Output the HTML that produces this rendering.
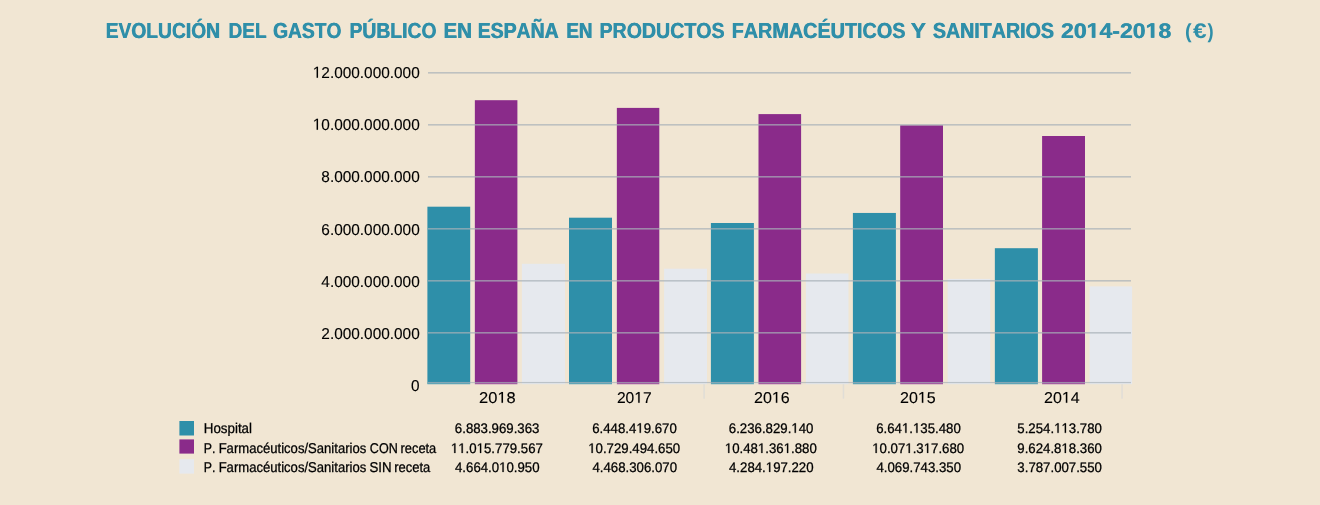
<!DOCTYPE html>
<html><head><meta charset="utf-8"><style>
html,body{margin:0;padding:0;background:#f1e6d3;width:1320px;height:505px;overflow:hidden;}
svg{display:block;will-change:transform;}
text{font-family:"Liberation Sans",sans-serif;fill:#000000;font-kerning:none;text-rendering:geometricPrecision;}
.t{stroke:#000000;stroke-width:0.28px;}
.t2{stroke:#000000;stroke-width:0.12px;}
.t2p path{fill:#000000;stroke:#000000;stroke-width:0.12px;vector-effect:non-scaling-stroke;}
.tp path{fill:#000000;stroke:#000000;stroke-width:0.28px;vector-effect:non-scaling-stroke;}
.ttp path{fill:#2f8fa9;}
.tt{font-size:21.7px;font-weight:bold;fill:#2f8fa9;}
</style></head><body>
<svg width="1320" height="505" viewBox="0 0 1320 505">
<rect width="1320" height="505" fill="#f1e6d3"/>
<rect x="427.4" y="206.7" width="42.80" height="177.50" fill="#2e8fa9"/>
<rect x="474.85" y="100.2" width="42.55" height="284.00" fill="#8a2b8a"/>
<rect x="521.9" y="263.8" width="43.10" height="120.40" fill="#e6e9ee"/>
<rect x="569.0" y="217.7" width="43.00" height="166.50" fill="#2e8fa9"/>
<rect x="616.85" y="107.9" width="42.45" height="276.30" fill="#8a2b8a"/>
<rect x="664.1" y="268.7" width="42.90" height="115.50" fill="#e6e9ee"/>
<rect x="710.9" y="223.0" width="43.00" height="161.20" fill="#2e8fa9"/>
<rect x="758.5" y="114.1" width="42.60" height="270.10" fill="#8a2b8a"/>
<rect x="805.9" y="273.5" width="42.60" height="110.70" fill="#e6e9ee"/>
<rect x="852.9" y="212.95" width="43.00" height="171.25" fill="#2e8fa9"/>
<rect x="900.2" y="125.3" width="42.80" height="258.90" fill="#8a2b8a"/>
<rect x="947.6" y="278.9" width="42.70" height="105.30" fill="#e6e9ee"/>
<rect x="994.85" y="248.2" width="43.05" height="136.00" fill="#2e8fa9"/>
<rect x="1042.1" y="136.0" width="42.90" height="248.20" fill="#8a2b8a"/>
<rect x="1089.55" y="286.4" width="42.55" height="97.80" fill="#e6e9ee"/>
<rect x="428" y="72.00" width="703" height="1.6" fill="#a8b0b8" fill-opacity="0.7"/>
<rect x="428" y="124.00" width="703" height="1.6" fill="#a8b0b8" fill-opacity="0.7"/>
<rect x="428" y="176.00" width="703" height="1.6" fill="#a8b0b8" fill-opacity="0.7"/>
<rect x="428" y="228.00" width="703" height="1.6" fill="#a8b0b8" fill-opacity="0.7"/>
<rect x="428" y="280.00" width="703" height="1.6" fill="#a8b0b8" fill-opacity="0.7"/>
<rect x="428" y="332.00" width="703" height="1.6" fill="#a8b0b8" fill-opacity="0.7"/>
<rect x="428" y="381.95" width="703" height="1.1" fill="#a8b0b8" fill-opacity="0.7"/>
<rect x="428" y="383.05" width="703" height="1.15" fill="#d8dcdc" fill-opacity="0.3"/>
<rect x="703.35" y="384.2" width="1.5" height="14.5" fill="#e0ddd6"/>
<rect x="842.70" y="384.2" width="1.5" height="14.5" fill="#e0ddd6"/>
<rect x="1121.30" y="384.2" width="1.5" height="14.5" fill="#e0ddd6"/>
<text transform="translate(105.413 38.000) scale(0.8867 1)" class="tt" style="font-size:21.7px;">EVOLUCIÓN</text>
<text transform="translate(106.013 38.000) scale(0.8867 1)" class="tt" style="font-size:21.7px;">EVOLUCIÓN</text>
<text transform="translate(228.224 38.000) scale(0.8793 1)" class="tt" style="font-size:21.7px;">DEL</text>
<text transform="translate(228.824 38.000) scale(0.8793 1)" class="tt" style="font-size:21.7px;">DEL</text>
<text transform="translate(272.812 38.000) scale(0.8851 1)" class="tt" style="font-size:21.7px;">GASTO</text>
<text transform="translate(273.412 38.000) scale(0.8851 1)" class="tt" style="font-size:21.7px;">GASTO</text>
<text transform="translate(349.207 38.000) scale(0.8910 1)" class="tt" style="font-size:21.7px;">PÚBLICO</text>
<text transform="translate(349.807 38.000) scale(0.8910 1)" class="tt" style="font-size:21.7px;">PÚBLICO</text>
<text transform="translate(443.125 38.000) scale(0.9475 1)" class="tt" style="font-size:21.7px;">EN</text>
<text transform="translate(443.725 38.000) scale(0.9475 1)" class="tt" style="font-size:21.7px;">EN</text>
<text transform="translate(477.400 38.000) scale(0.8958 1)" class="tt" style="font-size:21.7px;">ESPAÑA</text>
<text transform="translate(478.000 38.000) scale(0.8958 1)" class="tt" style="font-size:21.7px;">ESPAÑA</text>
<text transform="translate(566.042 38.000) scale(0.8667 1)" class="tt" style="font-size:21.7px;">EN</text>
<text transform="translate(566.642 38.000) scale(0.8667 1)" class="tt" style="font-size:21.7px;">EN</text>
<text transform="translate(599.189 38.000) scale(0.9029 1)" class="tt" style="font-size:21.7px;">PRODUCTOS</text>
<text transform="translate(599.789 38.000) scale(0.9029 1)" class="tt" style="font-size:21.7px;">PRODUCTOS</text>
<text transform="translate(731.375 38.000) scale(0.9130 1)" class="tt" style="font-size:21.7px;">FARMACÉUTICOS</text>
<text transform="translate(731.975 38.000) scale(0.9130 1)" class="tt" style="font-size:21.7px;">FARMACÉUTICOS</text>
<text transform="translate(910.509 38.000) scale(1.0543 1)" class="tt" style="font-size:21.7px;">Y</text>
<text transform="translate(911.109 38.000) scale(1.0543 1)" class="tt" style="font-size:21.7px;">Y</text>
<text transform="translate(932.534 38.000) scale(0.9059 1)" class="tt" style="font-size:21.7px;">SANITARIOS</text>
<text transform="translate(933.134 38.000) scale(0.9059 1)" class="tt" style="font-size:21.7px;">SANITARIOS</text>
<g transform="translate(1060.700 37.850) scale(1.0829 1)" class="ttp"><path transform="translate(23.692 0) scale(0.010400 -0.010400)" d="M478 0L478 1170L140 959L140 1180L493 1409L759 1409L759 0Z"/><path transform="translate(78.169 0) scale(0.010400 -0.010400)" d="M478 0L478 1170L140 959L140 1180L493 1409L759 1409L759 0Z"/></g>
<text transform="translate(1060.700 37.850) scale(1.0829 1)" class="tt" style="font-size:21.3px;"><tspan x="0.000">20</tspan><tspan x="35.538">4-20</tspan><tspan x="90.015">8</tspan></text>
<g transform="translate(1061.300 37.850) scale(1.0829 1)" class="ttp"><path transform="translate(23.692 0) scale(0.010400 -0.010400)" d="M478 0L478 1170L140 959L140 1180L493 1409L759 1409L759 0Z"/><path transform="translate(78.169 0) scale(0.010400 -0.010400)" d="M478 0L478 1170L140 959L140 1180L493 1409L759 1409L759 0Z"/></g>
<text transform="translate(1061.300 37.850) scale(1.0829 1)" class="tt" style="font-size:21.3px;"><tspan x="0.000">20</tspan><tspan x="35.538">4-20</tspan><tspan x="90.015">8</tspan></text>
<text transform="translate(1192.980 37.850) scale(1.1633 1)" class="tt" style="font-size:21.1px;">€</text>
<text transform="translate(1184.912 37.570) scale(0.9727 1)" class="tt" style="font-size:20.4px;">(</text>
<text transform="translate(1207.482 37.570) scale(0.9032 1)" class="tt" style="font-size:20.4px;">)</text>
<g transform="translate(312.775 77.650) scale(0.9736 1)" class="t2p"><path transform="translate(0.000 0) scale(0.007715 -0.007715)" d="M515 0L515 1237L197 1010L197 1180L530 1409L696 1409L696 0Z"/></g>
<text transform="translate(312.775 77.650) scale(0.9736 1)" class="t2" style="font-size:15.8px;"><tspan x="8.787">2.000.000.000</tspan></text>
<g transform="translate(312.775 129.650) scale(0.9736 1)" class="t2p"><path transform="translate(0.000 0) scale(0.007715 -0.007715)" d="M515 0L515 1237L197 1010L197 1180L530 1409L696 1409L696 0Z"/></g>
<text transform="translate(312.775 129.650) scale(0.9736 1)" class="t2" style="font-size:15.8px;"><tspan x="8.787">0.000.000.000</tspan></text>
<text transform="translate(321.330 181.650) scale(0.9736 1)" class="t2" style="font-size:15.8px;">8.000.000.000</text>
<text transform="translate(321.330 234.650) scale(0.9736 1)" class="t2" style="font-size:15.8px;">6.000.000.000</text>
<text transform="translate(321.330 286.650) scale(0.9736 1)" class="t2" style="font-size:15.8px;">4.000.000.000</text>
<text transform="translate(321.330 338.650) scale(0.9736 1)" class="t2" style="font-size:15.8px;">2.000.000.000</text>
<text transform="translate(411.096 391.100) scale(0.9736 1)" class="t2" style="font-size:15.8px;">0</text>
<g transform="translate(479.072 402.800) scale(1.0559 1)" class="t2p"><path transform="translate(17.352 0) scale(0.007617 -0.007617)" d="M515 0L515 1237L197 1010L197 1180L530 1409L696 1409L696 0Z"/></g>
<text transform="translate(479.072 402.800) scale(1.0559 1)" class="t2" style="font-size:15.6px;"><tspan x="0.000">20</tspan><tspan x="26.028">8</tspan></text>
<g transform="translate(616.914 402.800) scale(1.0020 1)" class="t2p"><path transform="translate(17.352 0) scale(0.007617 -0.007617)" d="M515 0L515 1237L197 1010L197 1180L530 1409L696 1409L696 0Z"/></g>
<text transform="translate(616.914 402.800) scale(1.0020 1)" class="t2" style="font-size:15.6px;"><tspan x="0.000">20</tspan><tspan x="26.028">7</tspan></text>
<g transform="translate(753.941 402.800) scale(1.0306 1)" class="t2p"><path transform="translate(17.352 0) scale(0.007617 -0.007617)" d="M515 0L515 1237L197 1010L197 1180L530 1409L696 1409L696 0Z"/></g>
<text transform="translate(753.941 402.800) scale(1.0306 1)" class="t2" style="font-size:15.6px;"><tspan x="0.000">20</tspan><tspan x="26.028">6</tspan></text>
<g transform="translate(899.993 402.800) scale(1.0281 1)" class="t2p"><path transform="translate(17.352 0) scale(0.007617 -0.007617)" d="M515 0L515 1237L197 1010L197 1180L530 1409L696 1409L696 0Z"/></g>
<text transform="translate(899.993 402.800) scale(1.0281 1)" class="t2" style="font-size:15.6px;"><tspan x="0.000">20</tspan><tspan x="26.028">5</tspan></text>
<g transform="translate(1043.993 402.800) scale(1.0280 1)" class="t2p"><path transform="translate(17.352 0) scale(0.007617 -0.007617)" d="M515 0L515 1237L197 1010L197 1180L530 1409L696 1409L696 0Z"/></g>
<text transform="translate(1043.993 402.800) scale(1.0280 1)" class="t2" style="font-size:15.6px;"><tspan x="0.000">20</tspan><tspan x="26.028">4</tspan></text>
<rect x="179.4" y="421.0" width="14.6" height="14.5" fill="#2e8fa9"/>
<rect x="179.4" y="439.4" width="14.6" height="14.2" fill="#8a2b8a"/>
<rect x="179.4" y="459.2" width="14.6" height="14.4" fill="#e6e9ee"/>
<text transform="translate(203.806 432.850) scale(0.9393 1)" class="t" style="font-size:14.2px;">Hospital</text>
<text transform="translate(203.735 452.900) scale(0.8717 1)" class="t" style="font-size:14.2px;">P.</text>
<text transform="translate(218.626 452.900) scale(0.9222 1)" class="t" style="font-size:14.2px;">Farmacéuticos/Sanitarios</text>
<text transform="translate(369.861 452.900) scale(0.8862 1)" class="t" style="font-size:14.2px;">CON</text>
<text transform="translate(400.546 452.900) scale(0.9060 1)" class="t" style="font-size:14.2px;">receta</text>
<text transform="translate(203.735 471.900) scale(0.8717 1)" class="t" style="font-size:14.2px;">P.</text>
<text transform="translate(218.626 471.900) scale(0.9222 1)" class="t" style="font-size:14.2px;">Farmacéuticos/Sanitarios</text>
<text transform="translate(369.397 471.900) scale(0.9351 1)" class="t" style="font-size:14.2px;">SIN</text>
<text transform="translate(394.136 471.900) scale(0.9163 1)" class="t" style="font-size:14.2px;">receta</text>
<text transform="translate(454.849 432.850) scale(0.9587 1)" class="t" style="font-size:13.8px;">6.883.969.363</text>
<g transform="translate(592.217 432.850) scale(0.9587 1)" class="tp"><path transform="translate(46.043 0) scale(0.006738 -0.006738)" d="M515 0L515 1237L197 1010L197 1180L530 1409L696 1409L696 0Z"/></g>
<text transform="translate(592.217 432.850) scale(0.9587 1)" class="t" style="font-size:13.8px;"><tspan x="0.000">6.448.4</tspan><tspan x="53.718">9.670</tspan></text>
<g transform="translate(728.817 432.850) scale(0.9587 1)" class="tp"><path transform="translate(65.227 0) scale(0.006738 -0.006738)" d="M515 0L515 1237L197 1010L197 1180L530 1409L696 1409L696 0Z"/></g>
<text transform="translate(728.817 432.850) scale(0.9587 1)" class="t" style="font-size:13.8px;"><tspan x="0.000">6.236.829.</tspan><tspan x="72.901">40</tspan></text>
<g transform="translate(876.217 432.850) scale(0.9587 1)" class="tp"><path transform="translate(26.859 0) scale(0.006738 -0.006738)" d="M515 0L515 1237L197 1010L197 1180L530 1409L696 1409L696 0Z"/><path transform="translate(38.368 0) scale(0.006738 -0.006738)" d="M515 0L515 1237L197 1010L197 1180L530 1409L696 1409L696 0Z"/></g>
<text transform="translate(876.217 432.850) scale(0.9587 1)" class="t" style="font-size:13.8px;"><tspan x="0.000">6.64</tspan><tspan x="34.534">.</tspan><tspan x="46.043">35.480</tspan></text>
<g transform="translate(1017.338 432.850) scale(0.9587 1)" class="tp"><path transform="translate(38.368 0) scale(0.006738 -0.006738)" d="M515 0L515 1237L197 1010L197 1180L530 1409L696 1409L696 0Z"/><path transform="translate(46.043 0) scale(0.006738 -0.006738)" d="M515 0L515 1237L197 1010L197 1180L530 1409L696 1409L696 0Z"/></g>
<text transform="translate(1017.338 432.850) scale(0.9587 1)" class="t" style="font-size:13.8px;"><tspan x="0.000">5.254.</tspan><tspan x="53.718">3.780</tspan></text>
<g transform="translate(450.912 452.900) scale(0.9587 1)" class="tp"><path transform="translate(0.000 0) scale(0.006738 -0.006738)" d="M515 0L515 1237L197 1010L197 1180L530 1409L696 1409L696 0Z"/><path transform="translate(7.675 0) scale(0.006738 -0.006738)" d="M515 0L515 1237L197 1010L197 1180L530 1409L696 1409L696 0Z"/><path transform="translate(26.859 0) scale(0.006738 -0.006738)" d="M515 0L515 1237L197 1010L197 1180L530 1409L696 1409L696 0Z"/></g>
<text transform="translate(450.912 452.900) scale(0.9587 1)" class="t" style="font-size:13.8px;"><tspan x="15.350">.0</tspan><tspan x="34.534">5.779.567</tspan></text>
<g transform="translate(588.237 452.900) scale(0.9587 1)" class="tp"><path transform="translate(0.000 0) scale(0.006738 -0.006738)" d="M515 0L515 1237L197 1010L197 1180L530 1409L696 1409L696 0Z"/></g>
<text transform="translate(588.237 452.900) scale(0.9587 1)" class="t" style="font-size:13.8px;"><tspan x="7.675">0.729.494.650</tspan></text>
<g transform="translate(724.837 452.900) scale(0.9587 1)" class="tp"><path transform="translate(0.000 0) scale(0.006738 -0.006738)" d="M515 0L515 1237L197 1010L197 1180L530 1409L696 1409L696 0Z"/><path transform="translate(34.534 0) scale(0.006738 -0.006738)" d="M515 0L515 1237L197 1010L197 1180L530 1409L696 1409L696 0Z"/><path transform="translate(61.392 0) scale(0.006738 -0.006738)" d="M515 0L515 1237L197 1010L197 1180L530 1409L696 1409L696 0Z"/></g>
<text transform="translate(724.837 452.900) scale(0.9587 1)" class="t" style="font-size:13.8px;"><tspan x="7.675">0.48</tspan><tspan x="42.209">.36</tspan><tspan x="69.067">.880</tspan></text>
<g transform="translate(872.237 452.900) scale(0.9587 1)" class="tp"><path transform="translate(0.000 0) scale(0.006738 -0.006738)" d="M515 0L515 1237L197 1010L197 1180L530 1409L696 1409L696 0Z"/><path transform="translate(34.534 0) scale(0.006738 -0.006738)" d="M515 0L515 1237L197 1010L197 1180L530 1409L696 1409L696 0Z"/><path transform="translate(53.718 0) scale(0.006738 -0.006738)" d="M515 0L515 1237L197 1010L197 1180L530 1409L696 1409L696 0Z"/></g>
<text transform="translate(872.237 452.900) scale(0.9587 1)" class="t" style="font-size:13.8px;"><tspan x="7.675">0.07</tspan><tspan x="42.209">.3</tspan><tspan x="61.392">7.680</tspan></text>
<g transform="translate(1017.293 452.900) scale(0.9587 1)" class="tp"><path transform="translate(46.043 0) scale(0.006738 -0.006738)" d="M515 0L515 1237L197 1010L197 1180L530 1409L696 1409L696 0Z"/></g>
<text transform="translate(1017.293 452.900) scale(0.9587 1)" class="t" style="font-size:13.8px;"><tspan x="0.000">9.624.8</tspan><tspan x="53.718">8.360</tspan></text>
<g transform="translate(455.001 471.900) scale(0.9587 1)" class="tp"><path transform="translate(46.043 0) scale(0.006738 -0.006738)" d="M515 0L515 1237L197 1010L197 1180L530 1409L696 1409L696 0Z"/></g>
<text transform="translate(455.001 471.900) scale(0.9587 1)" class="t" style="font-size:13.8px;"><tspan x="0.000">4.664.0</tspan><tspan x="53.718">0.950</tspan></text>
<text transform="translate(592.401 471.900) scale(0.9587 1)" class="t" style="font-size:13.8px;">4.468.306.070</text>
<g transform="translate(729.001 471.900) scale(0.9587 1)" class="tp"><path transform="translate(38.368 0) scale(0.006738 -0.006738)" d="M515 0L515 1237L197 1010L197 1180L530 1409L696 1409L696 0Z"/></g>
<text transform="translate(729.001 471.900) scale(0.9587 1)" class="t" style="font-size:13.8px;"><tspan x="0.000">4.284.</tspan><tspan x="46.043">97.220</tspan></text>
<text transform="translate(876.401 471.900) scale(0.9587 1)" class="t" style="font-size:13.8px;">4.069.743.350</text>
<text transform="translate(1017.351 471.900) scale(0.9587 1)" class="t" style="font-size:13.8px;">3.787.007.550</text>
</svg>
</body></html>
